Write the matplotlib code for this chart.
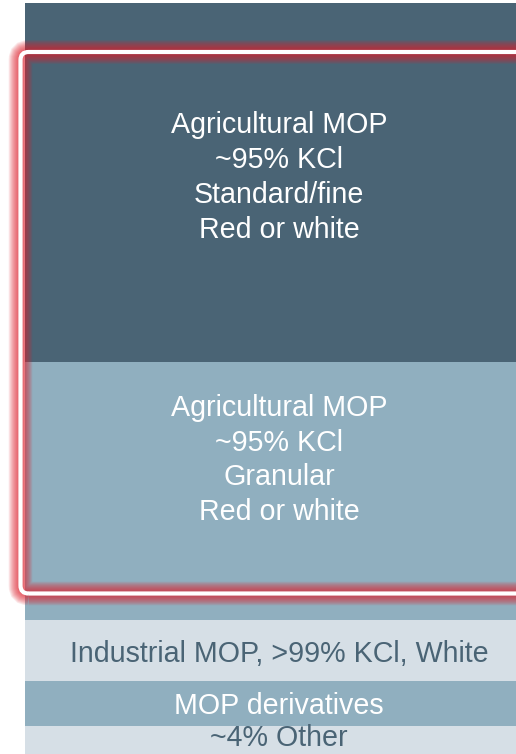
import matplotlib
matplotlib.use("Agg")
import matplotlib.pyplot as plt
from matplotlib.patches import FancyBboxPatch
from matplotlib.transforms import IdentityTransform

# ---- data (segment heights, top to bottom) ----
labels = [
    "Agricultural MOP\n~95% KCl\nStandard/fine\nRed or white",
    "Agricultural MOP\n~95% KCl\nGranular\nRed or white",
    "Industrial MOP, >99% KCl, White",
    "MOP derivatives",
    "~4% Other",
]
values = [359, 258, 61, 45, 44]

# ---- styles / layout ----
fill_colors = ["#4A6475", "#90AFBF", "#D6DFE6", "#90AFBF", "#D6DFE6"]
text_colors = ["white", "white", "#4A6475", "white", "#4A6475"]
label_offsets = [174.5, 98, 33.5, 25, 12]   # text centre below each segment top

W, H = 516, 754
fig = plt.figure(figsize=(W / 100, H / 100), dpi=100)
plt.rcParams['font.family'] = ['Liberation Sans', 'DejaVu Sans']

total = sum(values)
ax = fig.add_axes([25 / W, (H - 770) / H, (533 - 25) / W, total / H])
ax.set_xlim(0, 1)
ax.set_ylim(total, 0)
ax.axis("off")

top = 0
for lab, v, fc, tc, off in zip(labels, values, fill_colors, text_colors, label_offsets):
    ax.bar(0.5, v, bottom=top, width=1.0, color=fc, edgecolor="none", linewidth=0)
    ax.text(0.5, top + off, lab, ha="center", va="center", color=tc,
            fontsize=20.6, linespacing=1.31)
    top += v

# ---- highlight box with red glow ----
left, right = 20.5, 540
ytop, ybot = H - 52, H - 593.5
box_kw = dict(boxstyle="round,pad=0,rounding_size=8", facecolor="none",
              transform=IdentityTransform())
glow_color = "#E01E2A"
n = 10
for i in range(n):
    lw = 3 + (n - i) * 1.4
    fig.patches.append(FancyBboxPatch((left, ybot), right - left, ytop - ybot,
                                      edgecolor=glow_color, linewidth=lw,
                                      alpha=0.1, **box_kw))
fig.patches.append(FancyBboxPatch((left, ybot), right - left, ytop - ybot,
                                  edgecolor="white", linewidth=3.0, **box_kw))

fig.savefig("out.png", dpi=100)
